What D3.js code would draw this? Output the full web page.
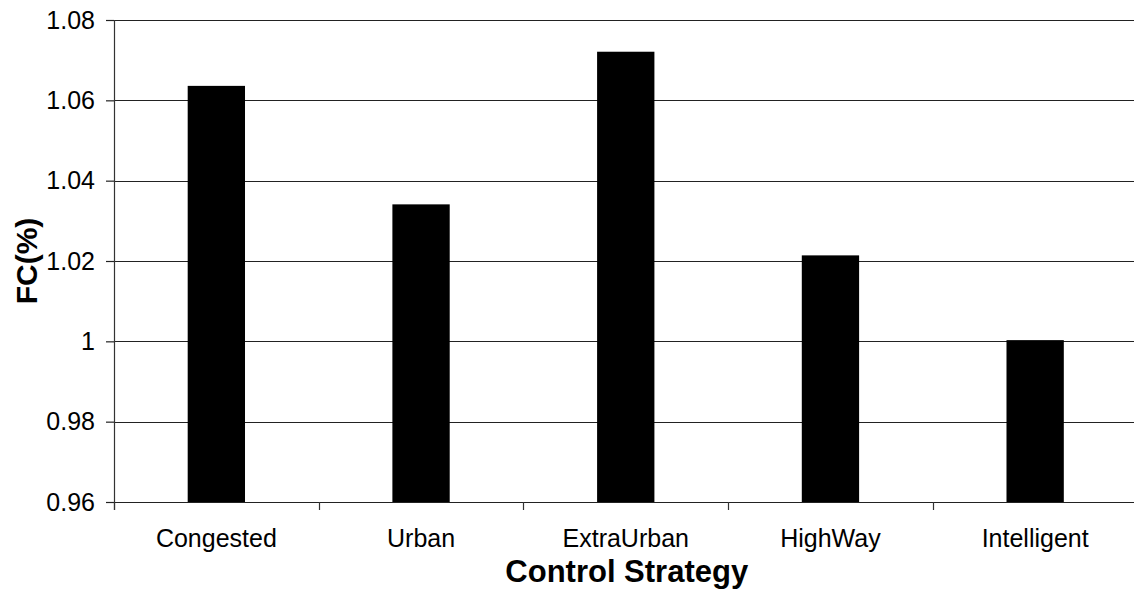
<!DOCTYPE html>
<html>
<head>
<meta charset="utf-8">
<script src="https://cdn.jsdelivr.net/npm/d3@7"></script>
<style>
  html, body { margin: 0; padding: 0; background: #fff; }
  svg { display: block; font-family: "Liberation Sans", Arial, sans-serif; }
</style>
</head>
<body>
<svg id="chart" width="1134" height="596"></svg>
<script>
const categories = ["Congested", "Urban", "ExtraUrban", "HighWay", "Intelligent"];
const values = [1.0636, 1.0341, 1.0721, 1.0214, 1.0003];
const yTicks = [0.96, 0.98, 1, 1.02, 1.04, 1.06, 1.08];
const yTickLabels = ["0.96", "0.98", "1", "1.02", "1.04", "1.06", "1.08"];
const xTitle = "Control Strategy";
const yTitle = "FC(%)";

(function () {
const svg = d3.select("#chart");
const mLeft = 114, mRight = 1137.5, mTop = 20, mBottom = 502;

const x = d3.scaleBand().domain(categories).range([mLeft, mRight])
  .paddingInner(0.72).paddingOuter(0.36);
const y = d3.scaleLinear().domain([0.96, 1.08]).range([mBottom, mTop]);

// gridlines
svg.append("g").selectAll("line").data(yTicks).join("line")
  .attr("x1", mLeft).attr("x2", 1134)
  .attr("y1", d => Math.round(y(d)) + 0.5).attr("y2", d => Math.round(y(d)) + 0.5)
  .attr("stroke", "#222").attr("stroke-width", 1.2);

// bars
svg.append("g").selectAll("rect").data(categories).join("rect")
  .attr("x", d => x(d))
  .attr("width", x.bandwidth())
  .attr("y", (d, i) => y(values[i]))
  .attr("height", (d, i) => y(0.96) - y(values[i]))
  .attr("fill", "#000");

// y axis
const yAxis = d3.axisLeft(y).tickValues(yTicks)
  .tickFormat((d, i) => yTickLabels[i]).tickSize(8).tickPadding(11);
const gy = svg.append("g").attr("transform", `translate(${mLeft},0)`).call(yAxis);
gy.select(".domain").remove();
gy.selectAll(".tick line").attr("stroke", "#222").attr("stroke-width", 1.2);
gy.selectAll(".tick text").attr("font-size", 25).attr("fill", "#000")
  .attr("font-family", '"Liberation Sans", Arial, sans-serif');

// y axis line
svg.append("line").attr("x1", mLeft + 0.5).attr("x2", mLeft + 0.5)
  .attr("y1", mTop).attr("y2", mBottom + 8)
  .attr("stroke", "#333").attr("stroke-width", 1.2);

// x axis category boundary ticks
const step = x.step();
svg.append("g").selectAll("line").data(d3.range(categories.length))
  .join("line")
  .attr("x1", i => Math.round(x.range()[0] + i * step) + 0.5)
  .attr("x2", i => Math.round(x.range()[0] + i * step) + 0.5)
  .attr("y1", mBottom).attr("y2", mBottom + 8)
  .attr("stroke", "#333").attr("stroke-width", 1.2);

// category labels
svg.append("g").selectAll("text").data(categories).join("text")
  .attr("x", d => x(d) + x.bandwidth() / 2)
  .attr("y", 547)
  .attr("text-anchor", "middle")
  .attr("font-size", 25)
  .attr("fill", "#000")
  .text(d => d);

// x title
svg.append("text")
  .attr("x", (mLeft + mRight) / 2 + 1).attr("y", 582)
  .attr("text-anchor", "middle").attr("font-size", 31).attr("font-weight", "bold")
  .attr("fill", "#000").text(xTitle);

// y title
svg.append("text")
  .attr("transform", `translate(37,${(mTop + mBottom) / 2}) rotate(-90)`)
  .attr("text-anchor", "middle").attr("font-size", 30).attr("font-weight", "bold")
  .attr("fill", "#000").text(yTitle);
})();
</script>
</body>
</html>
